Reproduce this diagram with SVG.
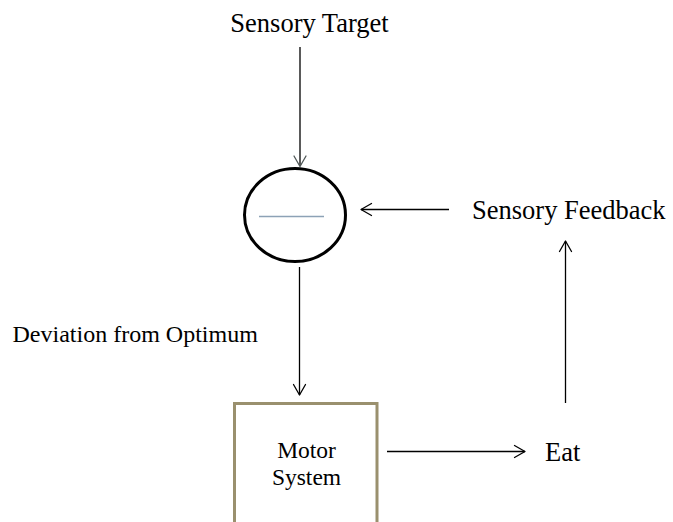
<svg xmlns="http://www.w3.org/2000/svg" width="673" height="522" viewBox="0 0 673 522">
<style>
.t{font-family:"Liberation Serif","Times New Roman",serif;fill:#000}
.c{fill:none;stroke:#000;stroke-width:1.3}
.h{fill:none;stroke:#000;stroke-width:1.3;stroke-linecap:round;stroke-linejoin:round}
</style>
<rect width="673" height="522" fill="#fff"/>
<g id="sensory-target"><text class="t" x="309.5" y="32" font-size="26.5" text-anchor="middle">Sensory Target</text></g>
<g id="comparator">
<ellipse cx="295" cy="215" rx="50.5" ry="46.5" fill="#fff" stroke="#000" stroke-width="3"/>
<line x1="259" y1="216.5" x2="324" y2="216.5" stroke="#8DA2B6" stroke-width="1.5"/>
</g>
<g id="sensory-feedback"><text class="t" x="472" y="219" font-size="26.5">Sensory Feedback</text></g>
<g id="deviation"><text class="t" x="12.5" y="341.5" font-size="24">Deviation from Optimum</text></g>
<g id="motor-system">
<path d="M234.5 524 V403.5 H377 V524" fill="#fff" stroke="#9A906E" stroke-width="3"/>
<text class="t" x="306.5" y="458" font-size="23.5" text-anchor="middle">Motor</text>
<text class="t" x="306.5" y="485" font-size="23.5" text-anchor="middle">System</text>
</g>
<g id="eat"><text class="t" x="545" y="461" font-size="26.5">Eat</text></g>
<g id="connectors">
<line x1="300" y1="47" x2="300" y2="166" class="c" stroke="#4F5757"/>
<path d="M294 156 L300 166.5 L306 156" class="h" stroke="#4F5757" style="stroke:#4F5757"/>
<line x1="299.5" y1="267" x2="299.5" y2="395" class="c"/>
<path d="M293.5 384.5 L299.5 395 L305.5 384.5" class="h"/>
<line x1="449" y1="209.5" x2="361" y2="209.5" class="c"/>
<path d="M371.5 203.5 L361 209.5 L371.5 215.5" class="h"/>
<line x1="387" y1="451.5" x2="525" y2="451.5" class="c"/>
<path d="M514.5 445.5 L525 451.5 L514.5 457.5" class="h"/>
<line x1="565.5" y1="403" x2="565.5" y2="241" class="c"/>
<path d="M559.5 251.5 L565.5 241 L571.5 251.5" class="h"/>
</g>
</svg>
